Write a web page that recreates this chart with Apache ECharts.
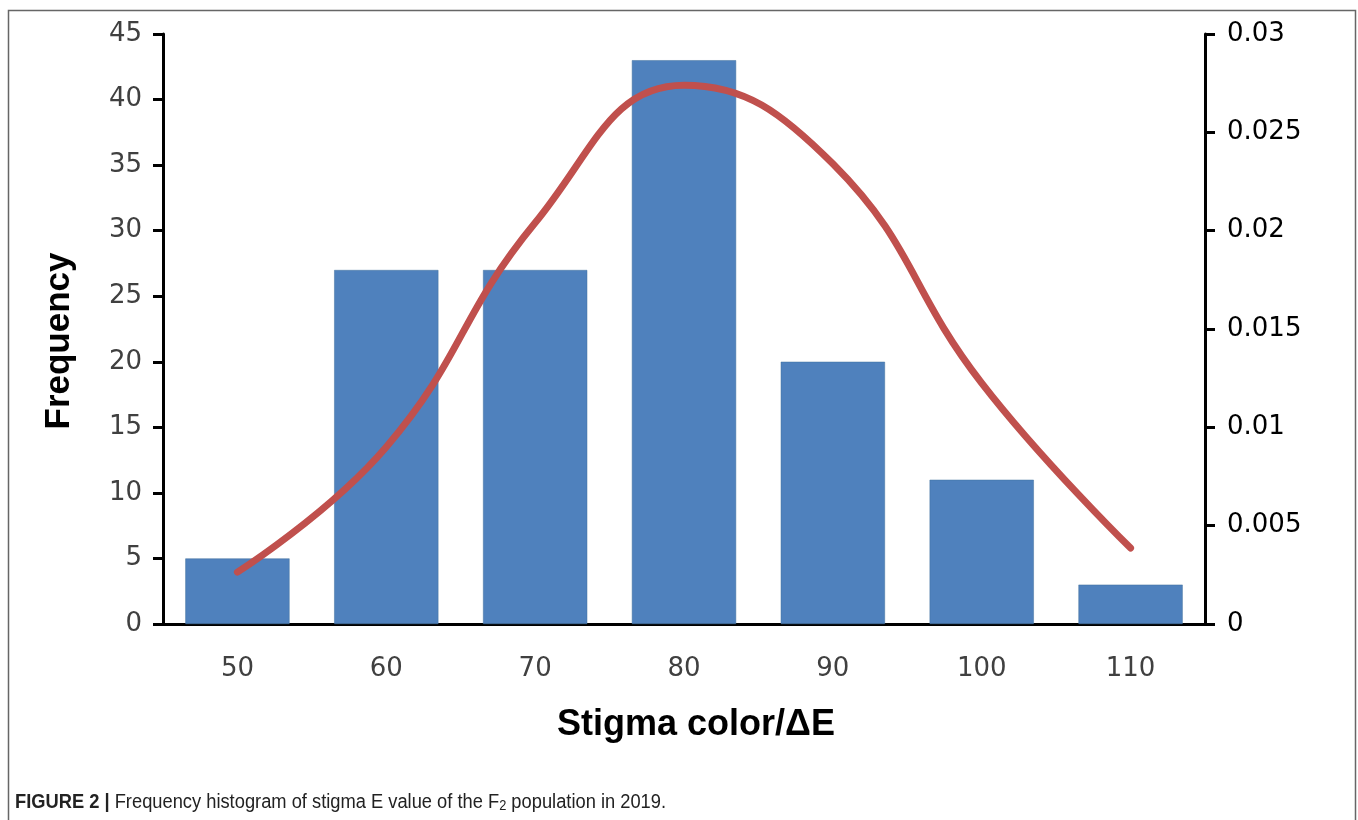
<!DOCTYPE html>
<html>
<head>
<meta charset="utf-8">
<script src="https://cdn.jsdelivr.net/npm/echarts@6/dist/echarts.min.js"></script>
<style>
  html, body { margin: 0; padding: 0; background: #fff; }
  #chart { width: 1358px; height: 820px; }
</style>
</head>
<body>
<div id="chart"></div>
<script>
// Stigma colour (ΔE) classes
const categories = ['50', '60', '70', '80', '90', '100', '110'];
// Number of F2 plants in each class
const frequency = [5, 27, 27, 43, 20, 11, 3];
// Fitted density curve (right axis)
const density = [0.00264, 0.0090, 0.0204, 0.0274, 0.0234, 0.01225, 0.00386];

const leftTicks = { min: 0, max: 45, interval: 5 };
const rightTicks = { min: 0, max: 0.03, interval: 0.005 };

const chart = echarts.init(document.getElementById('chart'), null, { renderer: 'canvas' });

const tickFont = 'DejaVu Sans';

chart.setOption({
  backgroundColor: '#ffffff',
  animation: false,
  grid: { left: 163, right: 153, top: 34, bottom: 196, containLabel: false },
  xAxis: {
    type: 'category',
    data: categories,
    boundaryGap: true,
    axisLine: { show: true, lineStyle: { color: '#000', width: 3 } },
    axisTick: { show: false },
    axisLabel: { color: '#404040', fontFamily: tickFont, fontSize: 26, margin: 32 },
    name: 'Stigma color/ΔE',
    nameLocation: 'middle',
    nameGap: 83,
    nameTextStyle: {
      color: '#000', fontFamily: 'Liberation Sans', fontWeight: 'bold', fontSize: 36,
      padding: [0, 0, 0, 24]
    }
  },
  yAxis: [
    {
      type: 'value',
      min: leftTicks.min, max: leftTicks.max, interval: leftTicks.interval,
      position: 'left',
      axisLine: { show: true, lineStyle: { color: '#000', width: 3 } },
      axisTick: { show: true, length: 10, lineStyle: { color: '#000', width: 3 } },
      axisLabel: { color: '#404040', fontFamily: tickFont, fontSize: 26, margin: 21 },
      splitLine: { show: false },
      name: 'Frequency',
      nameLocation: 'middle',
      nameGap: 86,
      nameTextStyle: {
        color: '#000', fontFamily: 'Liberation Sans', fontWeight: 'bold', fontSize: 35,
        padding: [0, 24, 0, 0]
      }
    },
    {
      type: 'value',
      min: rightTicks.min, max: rightTicks.max, interval: rightTicks.interval,
      position: 'right',
      axisLine: { show: true, lineStyle: { color: '#000', width: 3 } },
      axisTick: { show: true, length: 10, lineStyle: { color: '#000', width: 3 } },
      axisLabel: { color: '#000', fontFamily: tickFont, fontSize: 26, margin: 22 },
      splitLine: { show: false }
    }
  ],
  series: [
    {
      type: 'bar',
      yAxisIndex: 0,
      data: frequency,
      barCategoryGap: '30%',
      itemStyle: { color: '#4F81BD', borderColor: '#41719C', borderWidth: 0.5 }
    },
    {
      type: 'line',
      yAxisIndex: 1,
      data: density,
      smooth: 0.45,
      symbol: 'none',
      lineStyle: { color: '#C0504D', width: 7, cap: 'round' }
    }
  ],
  graphic: [
    {
      type: 'rect',
      shape: { x: 8.5, y: 10.5, width: 1347, height: 830 },
      style: { fill: 'none', stroke: '#666', lineWidth: 1.5 },
      silent: true
    },
    {
      type: 'text',
      x: 15,
      y: 791,
      scaleX: 0.915,
      style: {
        text: '{b|FIGURE 2 |} Frequency histogram of stigma E value of the F{s|2} population in 2019.',
        rich: {
          b: { fontFamily: 'Liberation Sans', fontWeight: 'bold', fontSize: 20, fill: '#222' },
          s: { fontFamily: 'Liberation Sans', fontSize: 14, fill: '#222', padding: [8, 0, 0, 0] }
        },
        fontFamily: 'Liberation Sans',
        fontSize: 20,
        fill: '#222'
      }
    }
  ]
});
</script>
</body>
</html>
